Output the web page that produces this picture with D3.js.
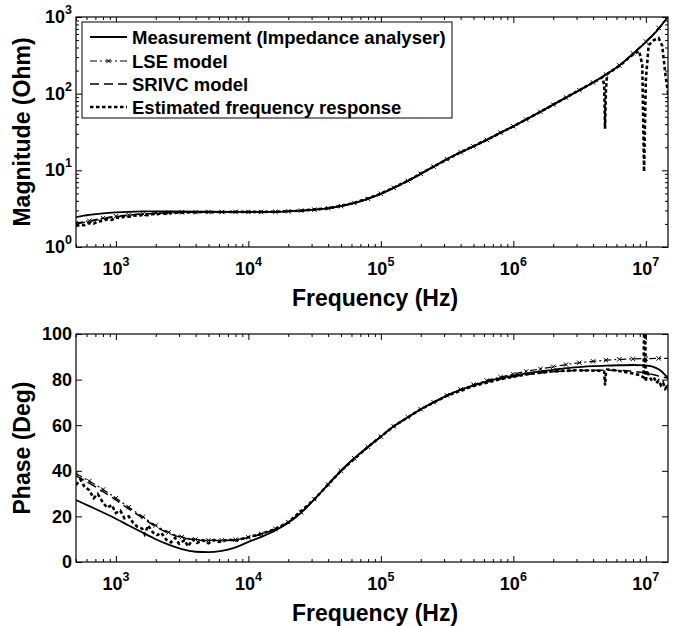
<!DOCTYPE html>
<html>
<head>
<meta charset="utf-8">
<script src="https://cdn.jsdelivr.net/npm/d3@7"></script>
<style>
body { margin: 0; background: #fff; }
svg text { font-family: "Liberation Sans", Arial, Helvetica, sans-serif; font-weight: bold; fill: #000; }
</style>
</head>
<body>
<div id="chart"></div>
<script>
// frequency grid (Hz), 1/10 decade
var freqGrid = [500, 630, 800,
    1e3, 1250, 1600, 2e3, 2500, 3150, 4e3, 5e3, 6300, 8e3,
    1e4, 1.25e4, 1.6e4, 2e4, 2.5e4, 3.15e4, 4e4, 5e4, 6.3e4, 8e4,
    1e5, 1.25e5, 1.6e5, 2e5, 2.5e5, 3.15e5, 4e5, 5e5, 6.3e5, 8e5,
    1e6, 1.25e6, 1.6e6, 2e6, 2.5e6, 3.15e6, 4e6, 5e6, 6.3e6, 8e6,
    1e7, 1.25e7, 1.6e7];

// magnitude (Ohm)
var measMag = [2.45, 2.62, 2.75,
    2.83, 2.88, 2.91, 2.92, 2.92, 2.91, 2.90, 2.89, 2.88, 2.87,
    2.87, 2.87, 2.88, 2.92, 2.98, 3.07, 3.20, 3.42, 3.75, 4.25,
    4.95, 5.9, 7.3, 9.0, 11.2, 14.0, 17.2, 20.5, 25, 31,
    37.5, 46, 58, 72, 89, 111, 140, 178, 232, 330,
    470, 700, 1250];
var lseMag = [2.05, 2.2, 2.38,
    2.52, 2.62, 2.7, 2.76, 2.8, 2.83, 2.85, 2.86, 2.86, 2.87,
    2.87, 2.87, 2.88, 2.92, 2.98, 3.07, 3.20, 3.42, 3.75, 4.25,
    4.95, 5.9, 7.3, 9.0, 11.2, 14.0, 17.2, 20.5, 25, 31,
    37.5, 46, 58, 72, 89, 111, 140, 178, 234, 335,
    480, 720, 1300];
var srivcMag = [2.0, 2.16, 2.33,
    2.48, 2.6, 2.68, 2.74, 2.79, 2.82, 2.84, 2.85, 2.86, 2.87,
    2.87, 2.87, 2.88, 2.92, 2.98, 3.07, 3.20, 3.42, 3.75, 4.25,
    4.95, 5.9, 7.3, 9.0, 11.2, 14.0, 17.2, 20.5, 25, 31,
    37.5, 46, 58, 72, 89, 111, 140, 178, 233, 332,
    475, 710, 1280];

// phase (deg)
var measPhase = [27.2, 24.5, 21.7,
    19.0, 16.0, 12.8, 10.0, 7.6, 5.6, 4.5, 4.3, 4.9, 6.4,
    8.8, 11.0, 13.8, 17.2, 21.6, 27.5, 34, 40, 45.5, 50.5,
    55, 59.5, 63.5, 67, 70, 73, 75.5, 77.5, 79.2, 80.6,
    81.7, 82.7, 83.6, 84.3, 85, 85.5, 85.9, 86.1, 86.3, 86.4,
    86.2, 84.5, 78];
var lsePhase = [38.8, 35.5, 31.8,
    28.0, 24.0, 19.8, 16.0, 13.0, 11.0, 9.9, 9.5, 9.5, 9.8,
    10.8, 12.3, 14.5, 17.5, 21.8, 27.6, 34, 40, 45.5, 50.5,
    55, 59.5, 63.5, 67, 70.1, 73.1, 75.7, 77.8, 79.6, 81.1,
    82.4, 83.6, 84.7, 85.6, 86.6, 87.4, 88.0, 88.5, 88.9, 89.1,
    89.2, 89.3, 89.4];
var srivcPhase = [37.8, 34.6, 30.9,
    27.2, 23.3, 19.2, 15.5, 12.6, 10.7, 9.7, 9.4, 9.4, 9.7,
    10.7, 12.2, 14.4, 17.4, 21.7, 27.5, 34, 40, 45.5, 50.5,
    55, 59.5, 63.5, 67, 70, 73, 75.5, 77.4, 79.0, 80.3,
    81.3, 82.2, 82.9, 83.4, 83.8, 84.0, 84.1, 84.1, 84.0, 83.6,
    82.8, 81.6, 80.0];

// estimated frequency response (own frequency points)
var estMagFreq = [500, 540, 580, 630, 680, 730, 800, 860, 930, 1000,
    1080, 1160, 1250, 1350, 1450, 1600, 1750, 1900, 2050, 2200,
    2400, 2600, 2800, 3000, 3300, 3600, 4000, 4500, 5000, 6300,
    8000, 1e4, 1.6e4, 2.5e4, 4e4, 6.3e4, 1e5, 1.6e5, 2.5e5, 4e5,
    6.3e5, 1e6, 1.6e6, 2.5e6, 4e6, 4.7e6, 4.85e6, 4.92e6, 5.0e6, 5.1e6,
    6.3e6, 8e6, 8.9e6, 9.4e6, 9.7e6, 1.0e7, 1.05e7, 1.15e7, 1.25e7, 1.33e7,
    1.41e7, 1.5e7];
var estMag = [1.88, 1.95, 1.92, 2.05, 2.02, 2.15, 2.2, 2.3, 2.25, 2.42,
    2.38, 2.5, 2.48, 2.58, 2.55, 2.62, 2.6, 2.7, 2.68, 2.74,
    2.72, 2.79, 2.78, 2.82, 2.8, 2.84, 2.83, 2.86, 2.85, 2.86,
    2.87, 2.87, 2.88, 2.98, 3.2, 3.75, 4.95, 7.3, 11.2, 17.2,
    25, 37.5, 58, 89, 140, 163, 130, 35, 110, 180,
    230, 325, 360, 240, 9.6, 150, 430, 500, 530, 420,
    170, 80];

var estPhaseFreq = [500, 540, 580, 630, 680, 730, 800, 860, 930, 1000,
    1080, 1160, 1250, 1350, 1450, 1580, 1650, 1750, 1900, 2050,
    2200, 2400, 2600, 2800, 3000, 3300, 3500, 3800, 4100, 4500,
    5000, 5500, 6000, 7000, 8000, 9000, 1e4, 1.25e4, 1.6e4, 2e4,
    3.15e4, 5e4, 8e4, 1.25e5, 2e5, 3.15e5, 5e5, 8e5, 1.25e6, 2e6,
    3e6, 4.4e6, 4.85e6, 4.92e6, 5.0e6, 5.1e6, 6e6, 7e6, 8e6, 9e6,
    9.6e6, 9.8e6, 1.0e7, 1.02e7, 1.06e7, 1.1e7, 1.15e7, 1.2e7, 1.25e7, 1.3e7,
    1.35e7, 1.4e7, 1.45e7, 1.5e7];
var estPhase = [33.8, 36.2, 33.0, 31.5, 28.0, 29.8, 26.0, 23.8, 25.0, 21.5,
    22.5, 19.2, 20.0, 17.2, 15.5, 14.6, 12.2, 16.0, 13.0, 11.8,
    12.8, 9.8, 8.6, 10.6, 8.0, 9.6, 6.8, 9.9, 8.4, 9.6,
    8.2, 9.7, 8.8, 9.8, 9.4, 10.2, 10.9, 12.3, 14.5, 17.4,
    27.5, 40, 50.5, 59.5, 67, 72.9, 77.2, 80.2, 82.3, 83.7,
    84.1, 83.9, 83.5, 77.5, 83.2, 84.4, 84.0, 83.3, 82.7, 82.0,
    81.0, 120, 79.0, 84.0, 81.5, 80.0, 81.0, 78.5, 79.6, 77.5,
    78.6, 76.0, 77.0, 75.0];

var legendLabels = ["Measurement (Impedance analyser)", "LSE model", "SRIVC model", "Estimated frequency response"];
var phaseTicks = [0, 20, 40, 60, 80, 100];
var magTicks = [1, 10, 100, 1000];
var freqTicks = [1e3, 1e4, 1e5, 1e6, 1e7];

var svgWidth = 680;
var svgHeight = 626;
var left = 76, right = 668;
var magTop = 17, magBottom = 247;
var phTop = 334, phBottom = 562;

var svg = d3.select("#chart")
    .append("svg")
    .attr("width", svgWidth)
    .attr("height", svgHeight);

var xScale = d3.scaleLog().domain([500, 1.47e7]).range([left, right]);
var yMag = d3.scaleLog().domain([1, 1000]).range([magBottom, magTop]);
var yPh = d3.scaleLinear().domain([0, 100]).range([phBottom, phTop]);

// minor tick positions for log axes
var freqMinor = [];
[100, 1e3, 1e4, 1e5, 1e6, 1e7].forEach(function(d) {
    for (var k = 2; k <= 9; k++) {
        var v = d * k;
        if (v >= 500 && v <= 1.47e7) freqMinor.push(v);
    }
});
var magMinor = [];
[1, 10, 100].forEach(function(d) {
    for (var k = 2; k <= 9; k++) magMinor.push(d * k);
});

var defs = svg.append("defs");
defs.append("clipPath").attr("id", "clipMag").append("rect")
    .attr("x", left).attr("y", magTop).attr("width", right - left).attr("height", magBottom - magTop);
defs.append("clipPath").attr("id", "clipPh").append("rect")
    .attr("x", left).attr("y", phTop).attr("width", right - left).attr("height", phBottom - phTop);

function zip(xs, ys) {
    return xs.map(function(f, i) { return [f, ys[i]]; });
}

var styles = [
    { dash: null, width: 1.8 },
    { dash: "7,3,2,3", width: 1.2 },
    { dash: "9,5", width: 1.5 },
    { dash: "3.5,2.5", width: 2.6 }
];

function drawAxes(yScale, top, bottom, yMajor, yMinor) {
    var g = svg.append("g");
    // x ticks, bottom and top, pointing inward
    [[d3.axisBottom, bottom], [d3.axisTop, top]].forEach(function(a) {
        g.append("g").attr("transform", `translate(0, ${a[1]})`)
            .call(a[0](xScale).tickValues(freqTicks).tickSize(-6).tickFormat(""))
            .call(s => s.select(".domain").remove());
        g.append("g").attr("transform", `translate(0, ${a[1]})`)
            .call(a[0](xScale).tickValues(freqMinor).tickSize(-3).tickFormat(""))
            .call(s => s.select(".domain").remove());
    });
    [[d3.axisLeft, left], [d3.axisRight, right]].forEach(function(a) {
        g.append("g").attr("transform", `translate(${a[1]}, 0)`)
            .call(a[0](yScale).tickValues(yMajor).tickSize(-6).tickFormat(""))
            .call(s => s.select(".domain").remove());
        if (yMinor) {
            g.append("g").attr("transform", `translate(${a[1]}, 0)`)
                .call(a[0](yScale).tickValues(yMinor).tickSize(-3).tickFormat(""))
                .call(s => s.select(".domain").remove());
        }
    });
    g.selectAll("line").attr("stroke", "#000").attr("stroke-width", 1);

    g.append("rect")
        .attr("x", left).attr("y", top)
        .attr("width", right - left).attr("height", bottom - top)
        .attr("fill", "none").attr("stroke", "#000").attr("stroke-width", 1.2);

    // x tick labels 10^n
    freqTicks.forEach(function(v) {
        var t = g.append("text")
            .attr("x", xScale(v)).attr("y", bottom + 28)
            .attr("text-anchor", "middle")
            .style("font-size", "18px");
        t.append("tspan").text("10");
        t.append("tspan").attr("dy", -9).style("font-size", "12.5px").text(Math.round(Math.log10(v)));
    });

    g.append("text")
        .attr("x", (left + right) / 2 + 3).attr("y", bottom + 59)
        .attr("text-anchor", "middle")
        .style("font-size", "23px")
        .text("Frequency (Hz)");
    return g;
}

function drawSeries(clipId, yScale, seriesList) {
    var g = svg.append("g").attr("clip-path", `url(#${clipId})`);
    seriesList.forEach(function(s, i) {
        var line = d3.line()
            .x(d => xScale(d[0]))
            .y(d => yScale(d[1]))
            .curve(i === 3 ? d3.curveLinear : d3.curveMonotoneX);
        g.append("path")
            .datum(s)
            .attr("fill", "none")
            .attr("stroke", "#000")
            .attr("stroke-width", styles[i].width)
            .attr("stroke-dasharray", styles[i].dash)
            .attr("d", line);
        if (i === 1) {
            g.selectAll(".mk" + clipId)
                .data(s)
                .enter()
                .append("path")
                .attr("class", "mk" + clipId)
                .attr("transform", d => `translate(${xScale(d[0])}, ${yScale(d[1])})`)
                .attr("d", "M-2.2,-2.2L2.2,2.2M-2.2,2.2L2.2,-2.2")
                .attr("stroke", "#000")
                .attr("stroke-width", 1);
        }
    });
}

// ---- magnitude panel ----
drawSeries("clipMag", yMag, [
    zip(freqGrid, measMag),
    zip(freqGrid, lseMag),
    zip(freqGrid, srivcMag),
    zip(estMagFreq, estMag)
]);
var gMag = drawAxes(yMag, magTop, magBottom, magTicks, magMinor);
magTicks.forEach(function(v) {
    var t = gMag.append("text")
        .attr("x", 72).attr("y", yMag(v) + 6)
        .attr("text-anchor", "end")
        .style("font-size", "18px");
    t.append("tspan").text("10");
    t.append("tspan").attr("dy", -9).style("font-size", "12.5px").text(Math.round(Math.log10(v)));
});
gMag.append("text")
    .attr("transform", `translate(30, ${(magTop + magBottom) / 2}) rotate(-90)`)
    .attr("text-anchor", "middle")
    .style("font-size", "23px")
    .text("Magnitude (Ohm)");

// legend
var legend = svg.append("g");
legend.append("rect")
    .attr("x", 82).attr("y", 22).attr("width", 370).attr("height", 96)
    .attr("fill", "#fff").attr("stroke", "#000").attr("stroke-width", 1);
var rowY = [37, 61, 84, 107];
legendLabels.forEach(function(lbl, i) {
    legend.append("line")
        .attr("x1", 90).attr("x2", 127).attr("y1", rowY[i]).attr("y2", rowY[i])
        .attr("stroke", "#000")
        .attr("stroke-width", styles[i].width)
        .attr("stroke-dasharray", styles[i].dash);
    if (i === 1) {
        legend.append("path")
            .attr("transform", `translate(108.5, ${rowY[i]})`)
            .attr("d", "M-2.2,-2.2L2.2,2.2M-2.2,2.2L2.2,-2.2")
            .attr("stroke", "#000").attr("stroke-width", 1);
    }
    legend.append("text")
        .attr("x", 132).attr("y", rowY[i])
        .attr("dy", "0.36em")
        .style("font-size", "18.5px")
        .text(lbl);
});

// ---- phase panel ----
drawSeries("clipPh", yPh, [
    zip(freqGrid, measPhase),
    zip(freqGrid, lsePhase),
    zip(freqGrid, srivcPhase),
    zip(estPhaseFreq, estPhase)
]);
var gPh = drawAxes(yPh, phTop, phBottom, phaseTicks, null);
phaseTicks.forEach(function(v) {
    gPh.append("text")
        .attr("x", 72).attr("y", yPh(v))
        .attr("dy", "0.36em")
        .attr("text-anchor", "end")
        .style("font-size", "18px")
        .text(v);
});
gPh.append("text")
    .attr("transform", `translate(30, ${(phTop + phBottom) / 2}) rotate(-90)`)
    .attr("text-anchor", "middle")
    .style("font-size", "23px")
    .text("Phase (Deg)");
</script>
</body>
</html>
